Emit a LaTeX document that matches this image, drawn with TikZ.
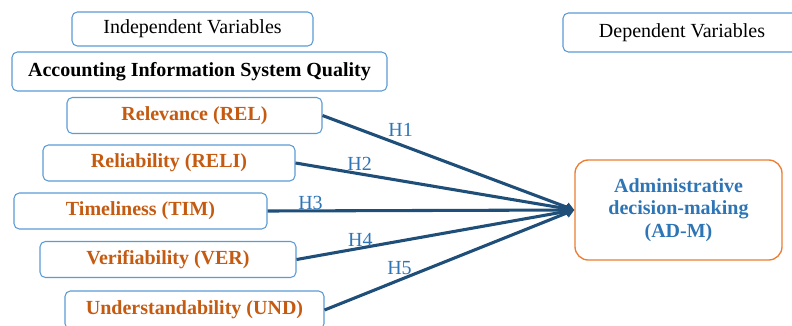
\documentclass[tikz,border=0pt]{standalone}
\usepackage{fontspec}
\setmainfont{Liberation Serif}
\usepackage{xcolor}
\usepackage{tikz}
\usetikzlibrary{arrows.meta, positioning}

\definecolor{boxBlue}{HTML}{5B9BD5}
\definecolor{varOrange}{HTML}{C55A11}
\definecolor{admOrange}{HTML}{ED7D31}
\definecolor{lineBlue}{HTML}{1F4E79}
\definecolor{hypBlue}{HTML}{2E75B6}

\begin{document}
\begin{tikzpicture}[x=0.75pt, y=-0.75pt,
    every node/.style={font=\fontsize{15}{17}\selectfont},
    varbox/.style={rectangle, rounded corners=4pt, draw=boxBlue, line width=0.8pt, fill=white, inner sep=0pt},
    factor/.style={varbox, minimum height=27pt, text=varOrange, font=\fontsize{15}{17}\selectfont\bfseries},
    hyp/.style={text=hypBlue, font=\fontsize{15}{17}\selectfont, inner sep=1pt}]
    \useasboundingbox (0,0) rectangle (792,325);

    \node (indep) [varbox, minimum width=180.75pt, minimum height=25.5pt] at (192.5,29) {Independent Variables};
    \node (aisq) [varbox, minimum width=281.25pt, minimum height=29.25pt, font=\fontsize{15}{17}\selectfont\bfseries] at (199.5,71.5) {Accounting Information System Quality};
    \node (rel) [factor, minimum width=191.25pt] at (194.5,115.5) {Relevance (REL)};
    \node (reli) [factor, minimum width=189pt] at (169,163) {Reliability (RELI)};
    \node (tim) [factor, minimum width=189.75pt] at (140.5,211) {Timeliness (TIM)};
    \node (ver) [factor, minimum width=192pt] at (168,259.5) {Verifiability (VER)};
    \node (und) [factor, minimum width=194.25pt, minimum height=28.5pt] at (194.5,310) {Understandability (UND)};
    \node (dep) [varbox, minimum width=178.5pt, minimum height=29.25pt] at (682,32.5) {Dependent Variables};
    \node (adm) [rectangle, rounded corners=10pt, draw=admOrange, line width=1pt, minimum width=155.25pt, minimum height=75pt, align=center, text=hypBlue, font=\fontsize{15}{17}\selectfont\bfseries] at (678.5,210) {Administrative\\decision-making\\(AD-M)};

    \draw [lineBlue, line width=2.3pt, arrows = -{Triangle[angle=60:7pt]}] (rel.east) -- node[hyp, pos=0.31, above=4pt] {H1} (adm.west);
    \draw [lineBlue, line width=2.3pt, arrows = -{Triangle[angle=60:7pt]}] (reli.east) -- node[hyp, pos=0.23, above=0pt] {H2} (adm.west);
    \draw [lineBlue, line width=2.3pt, arrows = -{Triangle[angle=60:7pt]}] (tim.east) -- node[hyp, pos=0.14, above=-1pt] {H3} (adm.west);
    \draw [lineBlue, line width=2.3pt, arrows = -{Triangle[angle=60:7pt]}] (ver.east) -- node[hyp, pos=0.23, above=-1pt] {H4} (adm.west);
    \draw [lineBlue, line width=2.3pt, arrows = -{Triangle[angle=60:7pt]}] (und.east) -- node[hyp, pos=0.30, above=2pt] {H5} (adm.west);
\end{tikzpicture}
\end{document}
